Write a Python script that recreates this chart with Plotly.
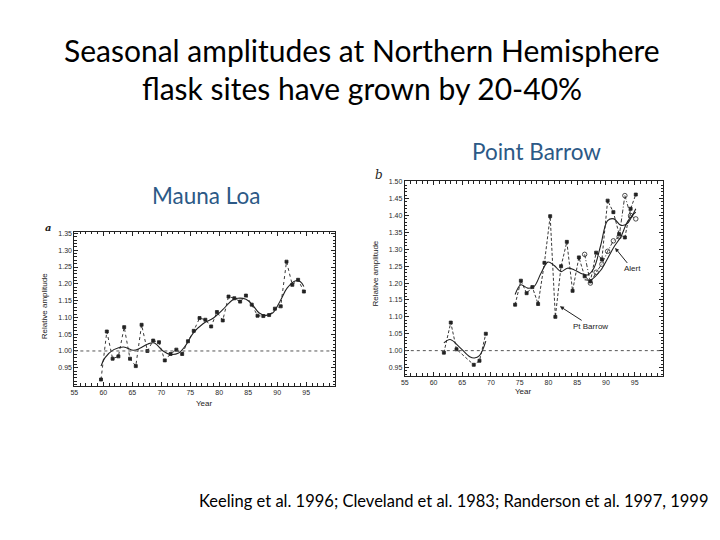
import plotly.graph_objects as go

# ---------------- data ----------------
# Panel a: Mauna Loa
ml_years = [59.6, 60.6, 61.6, 62.6, 63.6, 64.6, 65.6, 66.6, 67.6, 68.6, 69.6, 70.6,
            71.6, 72.6, 73.6, 74.6, 75.6, 76.6, 77.6, 78.6, 79.6, 80.6, 81.6, 82.6,
            83.6, 84.6, 85.6, 86.6, 87.6, 88.6, 89.6, 90.6, 91.6, 92.6, 93.6, 94.6]
ml_amp = [0.915, 1.058, 0.977, 0.984, 1.071, 0.977, 0.955, 1.078, 1.000, 1.031, 1.026, 0.972,
          0.991, 1.004, 0.991, 1.029, 1.060, 1.098, 1.093, 1.073, 1.116, 1.091, 1.162, 1.157,
          1.147, 1.165, 1.138, 1.105, 1.104, 1.107, 1.126, 1.133, 1.266, 1.197, 1.212, 1.177]
ml_smooth_x = [59.6, 60.3, 61.8, 63.5, 65.2, 66.3, 67.7, 68.8, 70.3, 71.5, 73.0, 74.3,
               75.5, 77.2, 79.0, 80.6, 82.3, 83.2, 84.6, 85.7, 86.9, 88.0, 89.2, 90.6,
               91.7, 93.2, 94.0, 94.6]
ml_smooth_y = [0.955, 0.980, 1.004, 1.012, 1.002, 1.008, 1.021, 1.024, 1.000, 0.990, 0.994, 1.019,
               1.053, 1.081, 1.098, 1.123, 1.152, 1.157, 1.154, 1.138, 1.113, 1.106, 1.113, 1.152,
               1.187, 1.209, 1.206, 1.192]

# Panel b: Point Barrow (early record and later record) and Alert
pb_early_years = [61.8, 63.0, 64.0, 67.0, 68.0, 69.1]
pb_early_amp = [0.994, 1.083, 1.004, 0.958, 0.970, 1.050]
pb_early_smooth_x = [61.8, 62.9, 64.6, 66.3, 67.1, 68.0, 69.1]
pb_early_smooth_y = [1.023, 1.033, 1.009, 0.982, 0.978, 0.985, 1.028]

pb_years = [74.2, 75.2, 76.2, 77.2, 78.2, 79.3, 80.3, 81.2, 82.2, 83.2, 84.2, 85.3,
            86.3, 87.3, 88.3, 89.3, 90.3, 91.3, 92.3, 93.3, 94.3, 95.2]
pb_amp = [1.136, 1.207, 1.170, 1.188, 1.138, 1.260, 1.398, 1.100, 1.250, 1.322, 1.177, 1.276,
          1.220, 1.205, 1.290, 1.270, 1.444, 1.410, 1.345, 1.335, 1.420, 1.462]
pb_smooth_x = [74.2, 75.2, 76.4, 77.5, 78.7, 79.9, 81.0, 82.2, 83.3, 84.5, 85.6, 86.8,
               87.9, 89.1, 90.3, 91.4, 92.6, 93.7, 94.6, 95.2]
pb_smooth_y = [1.166, 1.195, 1.185, 1.190, 1.229, 1.262, 1.252, 1.234, 1.244, 1.239, 1.229, 1.224,
               1.244, 1.312, 1.385, 1.390, 1.371, 1.376, 1.400, 1.420]

al_years = [86.3, 87.3, 88.3, 89.3, 90.3, 91.3, 92.3, 93.3, 94.3, 95.2]
al_amp = [1.285, 1.200, 1.232, 1.256, 1.294, 1.325, 1.337, 1.459, 1.400, 1.390]
al_smooth_x = [86.3, 87.4, 89.1, 90.3, 91.4, 92.6, 93.7, 94.6, 95.2]
al_smooth_y = [1.210, 1.210, 1.238, 1.273, 1.307, 1.337, 1.380, 1.400, 1.410]

x_ticks = [55, 60, 65, 70, 75, 80, 85, 90, 95]
a_yticks = [0.95, 1.00, 1.05, 1.10, 1.15, 1.20, 1.25, 1.30, 1.35]
b_yticks = [0.95, 1.00, 1.05, 1.10, 1.15, 1.20, 1.25, 1.30, 1.35, 1.40, 1.45, 1.50]

# ---------------- helpers: screen pixel -> paper fraction ----------------
W, H = 720, 540
OFF = 8  # page body margin offset of the plot in the browser

def px(x):
    return (x - OFF) / W

def py(y):
    return 1 - (y - OFF) / H

# ---------------- figure ----------------
INK = "#222222"
fig = go.Figure()

def raw(x, y, xa, ya, dash, symbol, size=3):
    fig.add_trace(go.Scatter(
        x=x, y=y, xaxis=xa, yaxis=ya, mode="lines+markers",
        line=dict(color=INK, width=0.9, dash=dash),
        marker=dict(symbol=symbol, size=size, color=INK,
                    line=dict(color=INK, width=0.8)),
        showlegend=False, hoverinfo="skip"))

def smooth(x, y, xa, ya):
    fig.add_trace(go.Scatter(
        x=x, y=y, xaxis=xa, yaxis=ya, mode="lines",
        line=dict(color=INK, width=1.1, shape="spline", smoothing=1.0),
        showlegend=False, hoverinfo="skip"))

raw(ml_years, ml_amp, "x", "y", "dot", "square")
smooth(ml_smooth_x, ml_smooth_y, "x", "y")

raw(pb_early_years, pb_early_amp, "x2", "y2", "3px,2px", "square")
smooth(pb_early_smooth_x, pb_early_smooth_y, "x2", "y2")
raw(pb_years, pb_amp, "x2", "y2", "3px,2px", "square")
smooth(pb_smooth_x, pb_smooth_y, "x2", "y2")
raw(al_years, al_amp, "x2", "y2", "4px,2px,1px,2px", "circle-open", 4.5)
smooth(al_smooth_x, al_smooth_y, "x2", "y2")

axis_font = dict(family="Liberation Sans, Arial, sans-serif", size=7, color="#2a2a2a")

def xax(domain, anchor):
    return dict(domain=domain, anchor=anchor, range=[55, 100], tickvals=x_ticks,
                ticktext=[str(v) for v in x_ticks], ticks="inside", ticklen=4,
                tickcolor=INK, showline=True, linecolor=INK, linewidth=1,
                mirror="allticks", showgrid=False, zeroline=False,
                tickfont=axis_font,
                minor=dict(dtick=1, ticks="inside", ticklen=2.5, tickcolor=INK, showgrid=False))

def yax(domain, anchor, rng, ticks):
    return dict(domain=domain, anchor=anchor, range=rng, tickvals=ticks,
                ticktext=["%.2f" % v for v in ticks], ticks="inside", ticklen=4,
                tickcolor=INK, showline=True, linecolor=INK, linewidth=1,
                mirror="allticks", showgrid=False, zeroline=False,
                tickfont=axis_font,
                minor=dict(dtick=0.01, ticks="inside", ticklen=2.5, tickcolor=INK, showgrid=False))

title_font = dict(family="Lato, Noto Sans, sans-serif", size=30, color="#000000")
label_font = dict(family="Lato, Noto Sans, sans-serif", size=22.5, color="#2C5986")
small = dict(family="Liberation Sans, Arial", size=8, color="#222")

def note(text, x, y, font, **kw):
    d = dict(text=text, x=px(x), y=py(y), xref="paper", yref="paper", showarrow=False,
             font=font, xanchor="center", yanchor="middle")
    d.update(kw)
    return d

annotations = [
    note("Seasonal amplitudes at Northern Hemisphere", 360, 47, title_font),
    note("flask sites have grown by 20-40%", 360, 85, title_font),
    note("Point Barrow", 535, 149, label_font),
    note("Mauna Loa", 203, 194, label_font),
    note("Keeling et al. 1996; Cleveland et al. 1983; Randerson et al. 1997, 1999", 452, 501,
         dict(family="Lato, Noto Sans, sans-serif", size=16.5, color="#000000")),
    note("Relative amplitude", 41, 305, small, textangle=-90),
    note("Year", 202, 403, small),
    note("Relative amplitude", 374, 272, small, textangle=-90),
    note("Year", 522, 391, small),
    note("<i><b>a</b></i>", 44, 226, dict(family="DejaVu Serif, serif", size=10, color="#222")),
    note("<i>b</i>", 377, 173, dict(family="DejaVu Serif, serif", size=12, color="#222")),
    dict(text="Alert", x=91.6, y=1.304, xref="x2", yref="y2", ax=17, ay=21,
         showarrow=True, arrowhead=2, arrowsize=0.8, arrowwidth=1, arrowcolor=INK, font=small),
    dict(text="Pt Barrow", x=82.0, y=1.131, xref="x2", yref="y2", ax=31, ay=20,
         showarrow=True, arrowhead=2, arrowsize=0.8, arrowwidth=1, arrowcolor=INK, font=small),
]

shapes = [
    dict(type="line", xref="x", yref="y", x0=55, x1=100, y0=1.0, y1=1.0,
         line=dict(color="#555555", width=1, dash="dot")),
    dict(type="line", xref="x2", yref="y2", x0=55, x1=100, y0=1.0, y1=1.0,
         line=dict(color="#555555", width=1, dash="dot")),
]

fig.update_layout(
    width=W, height=H, margin=dict(l=0, r=0, t=0, b=0),
    paper_bgcolor="white", plot_bgcolor="white",
    xaxis=xax([px(70.7), px(333)], "y"),
    yaxis=yax([py(385), py(230)], "x", [0.896, 1.355], a_yticks),
    xaxis2=xax([px(403), px(663)], "y2"),
    yaxis2=yax([py(375), py(179)], "x2", [0.925, 1.502], b_yticks),
    annotations=annotations, shapes=shapes,
)

fig.write_html("out.html")
